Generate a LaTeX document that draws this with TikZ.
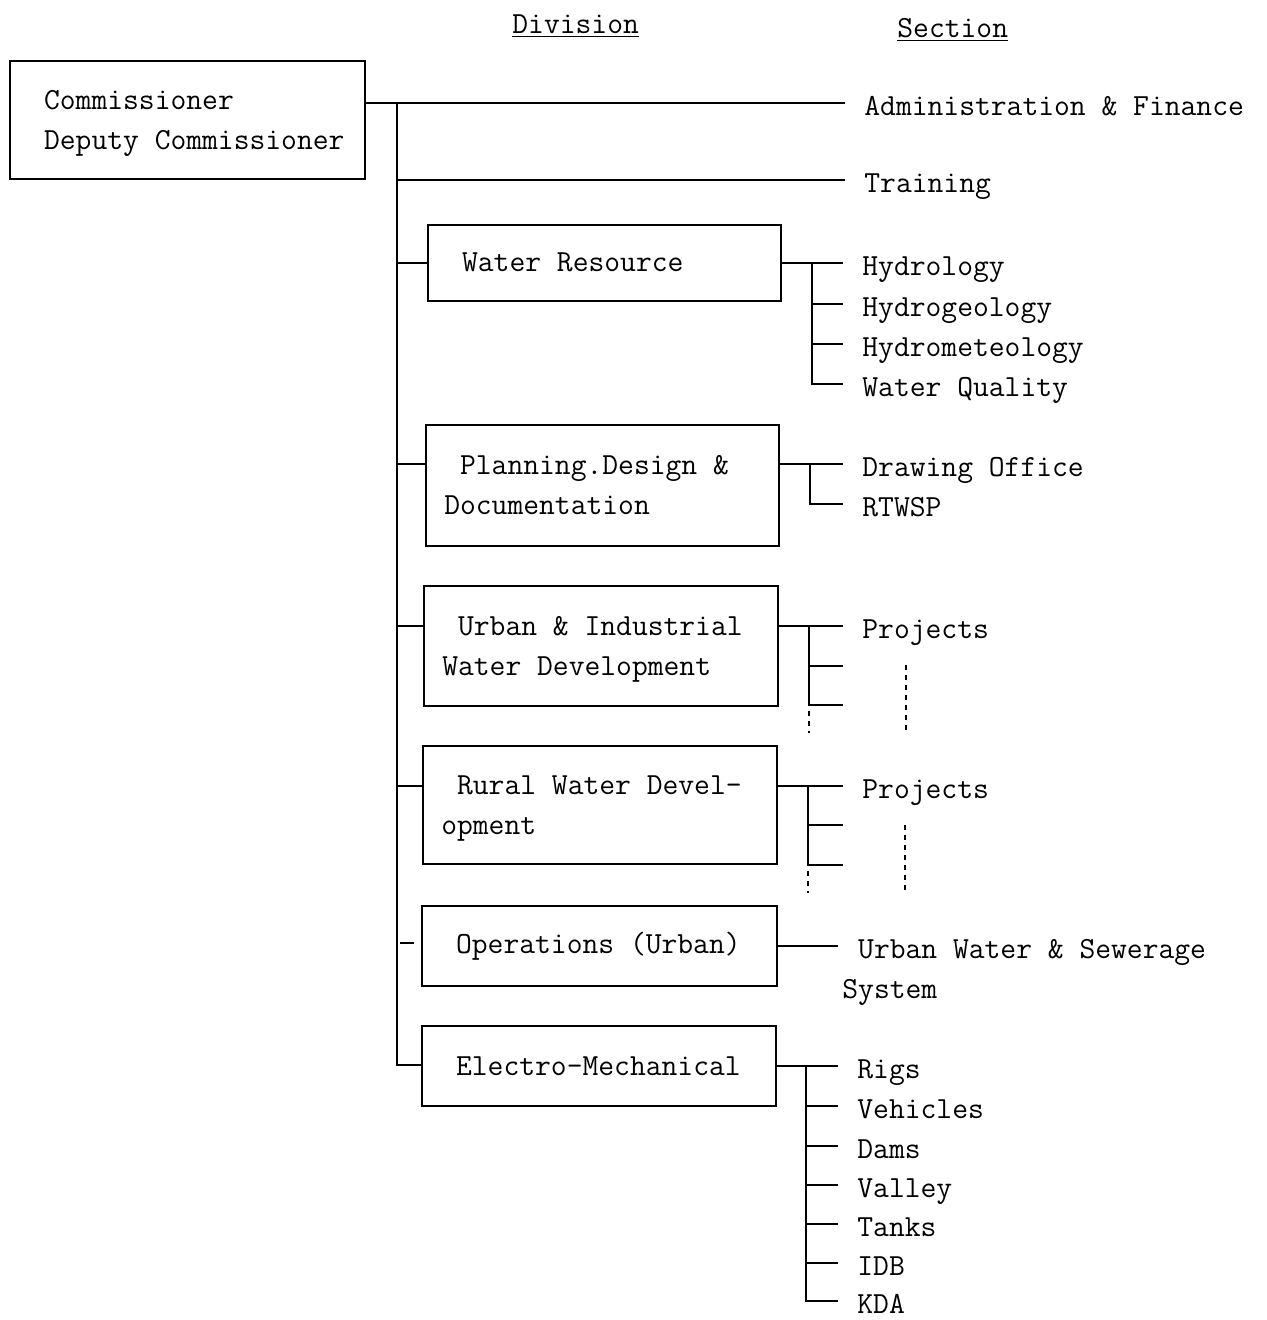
\documentclass[tikz,border=0pt]{standalone}
\usepackage{fontspec}
\usetikzlibrary{calc}
\newcommand{\chsp}{\hphantom{M}}
\tikzset{
  lbl/.style={font={\fontsize{15.35}{20}\selectfont\ttfamily}, inner ysep=0pt},
  divbox/.style={draw, lbl, line width=0.8pt, anchor=north west, align=left,
                 inner xsep=9.25pt,
                 execute at begin node={\spaceskip=\fontdimen2\font\relax\xspaceskip=\fontdimen2\font\relax}},
  sec/.style={lbl, anchor=west, inner xsep=9.5pt, text height=12.4pt, text depth=0pt},
  ln/.style={line width=0.8pt},
  dsh/.style={line width=0.8pt, dash pattern=on 2.5pt off 2.5pt},
  head/.style={lbl, anchor=mid west, inner sep=0pt}
}
\begin{document}
\begin{tikzpicture}[x=0.5pt,y=-0.5pt]
\useasboundingbox (0,0) rectangle (1266,1320);

% headings
\node[head] (hdiv) at (512,29) {\underline{Division}};
\node[head] (hsec) at (897,33) {\underline{Section}};

% top box
\node[divbox, minimum width=177.5pt, minimum height=59pt, text width=159pt] (cm) at (9,60)
  {\chsp Commissioner\\\smash{\chsp Deputy Commissioner}};

% division boxes
\node[divbox, minimum width=176.5pt, minimum height=38pt, text width=158pt] (wr) at (427,224)
  {\chsp Water Resource};
\node[divbox, minimum width=176.5pt, minimum height=60.5pt, text width=158pt] (pd) at (425,424)
  {\chsp Planning.Design \&\\Documentation};
\node[divbox, minimum width=177pt, minimum height=60pt, text width=158.5pt] (ui) at (423,585)
  {\chsp Urban \& Industrial\\\smash{Water Development}};
\node[divbox, minimum width=177pt, minimum height=59pt, text width=158.5pt] (rw) at (422,745)
  {\mbox{\chsp Rural Water Devel-}\\\smash{opment}};
\node[divbox, minimum width=177.5pt, minimum height=40pt, text width=159pt] (op) at (421,905)
  {\chsp Operations (Urban)};
\node[divbox, minimum width=177pt, minimum height=40pt, text width=158.5pt] (em) at (421,1025)
  {\chsp Electro-Mechanical};

% section labels
\node[sec] (adm) at (845,103) {Administration \& Finance};
\node[sec] (trn) at (845,180) {Training};
\node[sec] (hyd) at (843,263) {Hydrology};
\node[sec] (hgeo) at (843,304) {Hydrogeology};
\node[sec] (hmet) at (843,344) {Hydrometeology};
\node[sec] (wq) at (843,384) {Water Quality};
\node[sec] (dro) at (843,464) {Drawing Office};
\node[sec] (rtw) at (843,504) {RTWSP};
\node[sec] (pj1) at (843,626) {Projects};
\node[sec] (pj2) at (843,786) {Projects};
\node[lbl, anchor=north west, align=left, inner xsep=2pt] (uws) at (838,939)
  {\chsp Urban Water \& Sewerage\\System};
\node[sec] (rigs) at (838,1066) {Rigs};
\node[sec] (veh) at (838,1106) {Vehicles};
\node[sec] (dams) at (838,1146) {Dams};
\node[sec] (val) at (838,1185) {Valley};
\node[sec] (tnk) at (838,1224) {Tanks};
\node[sec] (idb) at (838,1263) {IDB};
\node[sec] (kda) at (838,1301) {KDA};

% spine
\coordinate (spT) at (397,103);
\coordinate (spB) at (397,1065);
\draw[ln] (cm.east |- adm.west) -- (adm.west);
\draw[ln] (spT) -- (spB) -- (spB -| em.west);
\draw[ln] (spT |- trn.west) -- (trn.west);
\draw[ln] (spT |- wr.west) -- (wr.west);
\draw[ln] (spT |- dro.west) -- (pd.west |- dro.west);
\draw[ln] (spT |- pj1.west) -- (ui.west |- pj1.west);
\draw[ln] (spT |- pj2.west) -- (rw.west |- pj2.west);
\coordinate (opd1) at (400,943);
\coordinate (opd2) at (414,943);
\draw[ln] (opd1) -- (opd2);

% Water Resource sections
\coordinate (wrb) at (812,263);
\draw[ln] (wr.east |- hyd.west) -- (hyd.west);
\draw[ln] (wrb |- hyd.west) -- (wrb |- wq.west) -- (wq.west);
\draw[ln] (wrb |- hgeo.west) -- (hgeo.west);
\draw[ln] (wrb |- hmet.west) -- (hmet.west);

% Planning sections
\coordinate (pdb) at (810,464);
\draw[ln] (pd.east |- dro.west) -- (dro.west);
\draw[ln] (pdb |- dro.west) -- (pdb |- rtw.west) -- (rtw.west);

% Urban & Industrial sections
\coordinate (uib) at (809,626);
\coordinate (ui2) at (843,666);
\coordinate (ui3) at (843,705);
\coordinate (uid1) at (809,711);
\coordinate (uid2) at (809,733);
\coordinate (uie1) at (906,665);
\coordinate (uie2) at (906,733);
\draw[ln] (ui.east |- pj1.west) -- (pj1.west);
\draw[ln] (uib |- pj1.west) -- (uib |- ui3) -- (ui3);
\draw[ln] (uib |- ui2) -- (ui2);
\draw[dsh] (uid1) -- (uid2);
\draw[dsh] (uie1) -- (uie2);

% Rural sections
\coordinate (rwb) at (808,786);
\coordinate (rw2) at (843,825);
\coordinate (rw3) at (843,865);
\coordinate (rwd1) at (808,871);
\coordinate (rwd2) at (808,893);
\coordinate (rwe1) at (905,825);
\coordinate (rwe2) at (905,893);
\draw[ln] (rw.east |- pj2.west) -- (pj2.west);
\draw[ln] (rwb |- pj2.west) -- (rwb |- rw3) -- (rw3);
\draw[ln] (rwb |- rw2) -- (rw2);
\draw[dsh] (rwd1) -- (rwd2);
\draw[dsh] (rwe1) -- (rwe2);

% Operations
\draw[ln] (op.east) -- (op.east -| uws.west);

% Electro-Mechanical sections
\coordinate (emb) at (806,1066);
\draw[ln] (em.east |- rigs.west) -- (rigs.west);
\draw[ln] (emb |- rigs.west) -- (emb |- kda.west) -- (kda.west);
\foreach \n in {veh,dams,val,tnk,idb}
  \draw[ln] (emb |- \n.west) -- (\n.west);
\end{tikzpicture}
\end{document}
